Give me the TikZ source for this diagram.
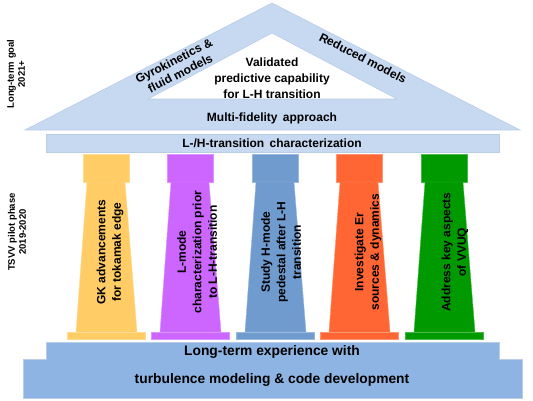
\documentclass[tikz,border=0pt]{standalone}
\usepackage{fontspec}
\setmainfont{Liberation Sans}[BoldFont={Liberation Sans Bold}]
\usetikzlibrary{positioning}
\definecolor{roofblue}{HTML}{C6D9F1}
\definecolor{edgeblue}{HTML}{B9CDE5}
\definecolor{baseblue}{HTML}{8EB4E3}
\definecolor{gkyellow}{HTML}{FFCC66}
\definecolor{lmpurple}{HTML}{CC66FF}
\definecolor{hmblue}{HTML}{6F9BCF}
\definecolor{erorange}{HTML}{FF6633}
\definecolor{vvgreen}{HTML}{009900}

\begin{document}
\begin{tikzpicture}[x=1pt,y=-1pt,node distance=28pt,font=\bfseries]
 \tikzstyle{roof part}=[fill=roofblue,draw=edgeblue,line width=0.6pt]
 \tikzstyle{base part}=[fill=baseblue,draw=edgeblue,line width=0.8pt]
 \tikzstyle{phase node}=[rotate=90,align=center,font=\bfseries\fontsize{9.5}{11}\selectfont]
 \tikzstyle{roof node}=[align=center,font=\bfseries\fontsize{12}{16}\selectfont]
 \tikzset{
 	column node/.style={rotate=90,align=center,font=\bfseries\fontsize{12}{15.5}\selectfont},
 	base node/.style={font=\bfseries\fontsize{13.8}{15}\selectfont},
 	slope node/.style={align=center,font=\bfseries\fontsize{12}{14}\selectfont}
 }

 \useasboundingbox (0,0) rectangle (533,400);

 % roof
 \path[roof part,even odd rule] (25,130) -- (272,3) -- (520,130) -- cycle
       (148,99) -- (272,33) -- (397,99) -- cycle;
 \path[roof part] (46,134) rectangle (499,152);

 % columns
 \path[fill=gkyellow,draw=gkyellow!70!white] (83,154) rectangle (129,182);
 \path[fill=gkyellow,draw=gkyellow!70!white] (87,182) -- (125,182) -- (137,332) -- (76,332) -- cycle;
 \path[fill=gkyellow,draw=gkyellow!70!white] (67,332) rectangle (145,339);

 \path[fill=lmpurple,draw=lmpurple!70!white] (167,154) rectangle (213,182);
 \path[fill=lmpurple,draw=lmpurple!70!white] (171,182) -- (209,182) -- (221,332) -- (160,332) -- cycle;
 \path[fill=lmpurple,draw=lmpurple!70!white] (151,332) rectangle (229,339);

 \path[fill=hmblue,draw=hmblue!70!white] (252,154) rectangle (298,182);
 \path[fill=hmblue,draw=hmblue!70!white] (256,182) -- (294,182) -- (306,332) -- (245,332) -- cycle;
 \path[fill=hmblue,draw=hmblue!70!white] (236,332) rectangle (314,339);

 \path[fill=erorange,draw=erorange!70!white] (336,154) rectangle (382,182);
 \path[fill=erorange,draw=erorange!70!white] (340,182) -- (378,182) -- (390,332) -- (329,332) -- cycle;
 \path[fill=erorange,draw=erorange!70!white] (320,332) rectangle (398,339);

 \path[fill=vvgreen,draw=vvgreen!70!white] (421,154) rectangle (467,182);
 \path[fill=vvgreen,draw=vvgreen!70!white] (425,182) -- (463,182) -- (475,332) -- (414,332) -- cycle;
 \path[fill=vvgreen,draw=vvgreen!70!white] (405,332) rectangle (483,339);

 % foundation
 \path[base part] (46,342) -- (499,342) -- (499,359) -- (522,359) -- (522,398)
       -- (23,398) -- (23,359) -- (46,359) -- cycle;

 % texts
 \node[phase node] (goal) at (16,74) {Long-term goal\\2021+};
 \node[phase node] (pilot) at (17,232) {TSVV pilot phase\\2019-2020};

 \node[roof node] (valid) at (272,78) {Validated\\predictive capability\\for L-H transition};
 \node[slope node,rotate=27] (gyro) at (177,67) {Gyrokinetics \&\\fluid models};
 \node[slope node,rotate=-27] (reduced) at (363,58) {Reduced models};
 \node[roof node] (multi) at (272,118) {Multi-fidelity\, approach};
 \node[roof node] (lh) at (272,143) {L-/H-transition\, characterization};

 \node[column node] (gk) at (110,252) {GK advancements\\for tokamak edge};
 \node[column node] (lmode) at (197,252) {L-mode\\characterization prior\\to L-H-transition};
 \node[column node] (hmode) at (281,252) {Study H-mode\\pedestal after L-H\\transition};
 \node[column node] (er) at (368,252) {Investigate Er\\sources \& dynamics};
 \node[column node] (vvuq) at (455,252) {Address key aspects\\of VVUQ};

 \node[base node] (exp) at (272,352) {Long-term experience with};
 \node[base node] (turb) [below of=exp] {turbulence modeling \& code development};
\end{tikzpicture}
\end{document}
